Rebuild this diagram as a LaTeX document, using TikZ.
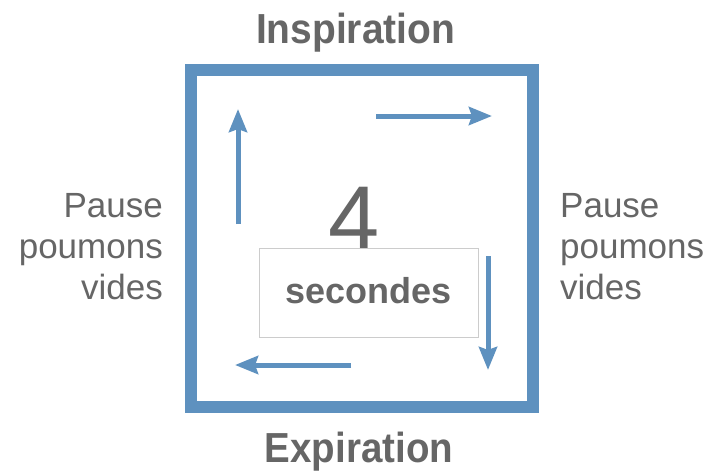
\documentclass[tikz,border=0pt]{standalone}
\usepackage{fontspec}
\setmainfont{Liberation Sans}
\usetikzlibrary{arrows.meta}
\definecolor{frameblue}{RGB}{94,145,191}
\definecolor{txtgray}{RGB}{102,102,102}
\definecolor{boxgray}{RGB}{204,204,204}
\begin{document}
\begin{tikzpicture}[x=1pt,y=-1pt,
  frame/.style={draw=frameblue,line width=12pt,inner sep=0pt},
  flow/.style={draw=frameblue,line width=5pt,-{Stealth[length=23pt,width=18pt,inset=3pt]}},
  title/.style={text=txtgray,font=\fontsize{42}{42}\selectfont\bfseries,inner sep=0pt,anchor=base},
  side/.style={text=txtgray,font=\fontsize{35}{41}\selectfont,inner sep=0pt},
  big/.style={text=txtgray,font=\fontsize{92}{92}\selectfont,inner sep=0pt,anchor=base},
  secbox/.style={draw=boxgray,fill=white,line width=1pt,inner sep=0pt,text=txtgray,
    font=\fontsize{36}{36}\selectfont\bfseries,text height=26pt,text depth=5pt,
    minimum width=219pt,minimum height=89pt}
]
\useasboundingbox (0,0) rectangle (706,471);
\fill[white] (0,0) rectangle (706,471);
\node[frame,minimum width=342pt,minimum height=337.5pt] (sq) at (362,238.25) {};
\node[title] (insp) at (355.5,43) {\scalebox{0.927}[1]{Inspiration}};
\node[title] (expi) at (359,462) {\scalebox{0.917}[1]{Expiration}};
\node[side,align=right,anchor=base east] (left) at (163,299) {Pause\\poumons\\vides};
\node[side,align=left,anchor=base west] (right) at (560,299) {Pause\\poumons\\vides};
\coordinate (ua) at (238,224); \coordinate (ub) at (238,109);
\coordinate (ra) at (376,116); \coordinate (rb) at (492,116);
\coordinate (da) at (488,256); \coordinate (db) at (488,370);
\coordinate (la) at (351,365); \coordinate (lb) at (235,365);
\draw[flow] (ua) -- (ub);
\draw[flow] (ra) -- (rb);
\draw[flow] (da) -- (db);
\draw[flow] (la) -- (lb);
\node[big] (four) at (354,250) {4};
\node[secbox] (sec) at (368.5,292.5) {secondes};
\end{tikzpicture}
\end{document}
